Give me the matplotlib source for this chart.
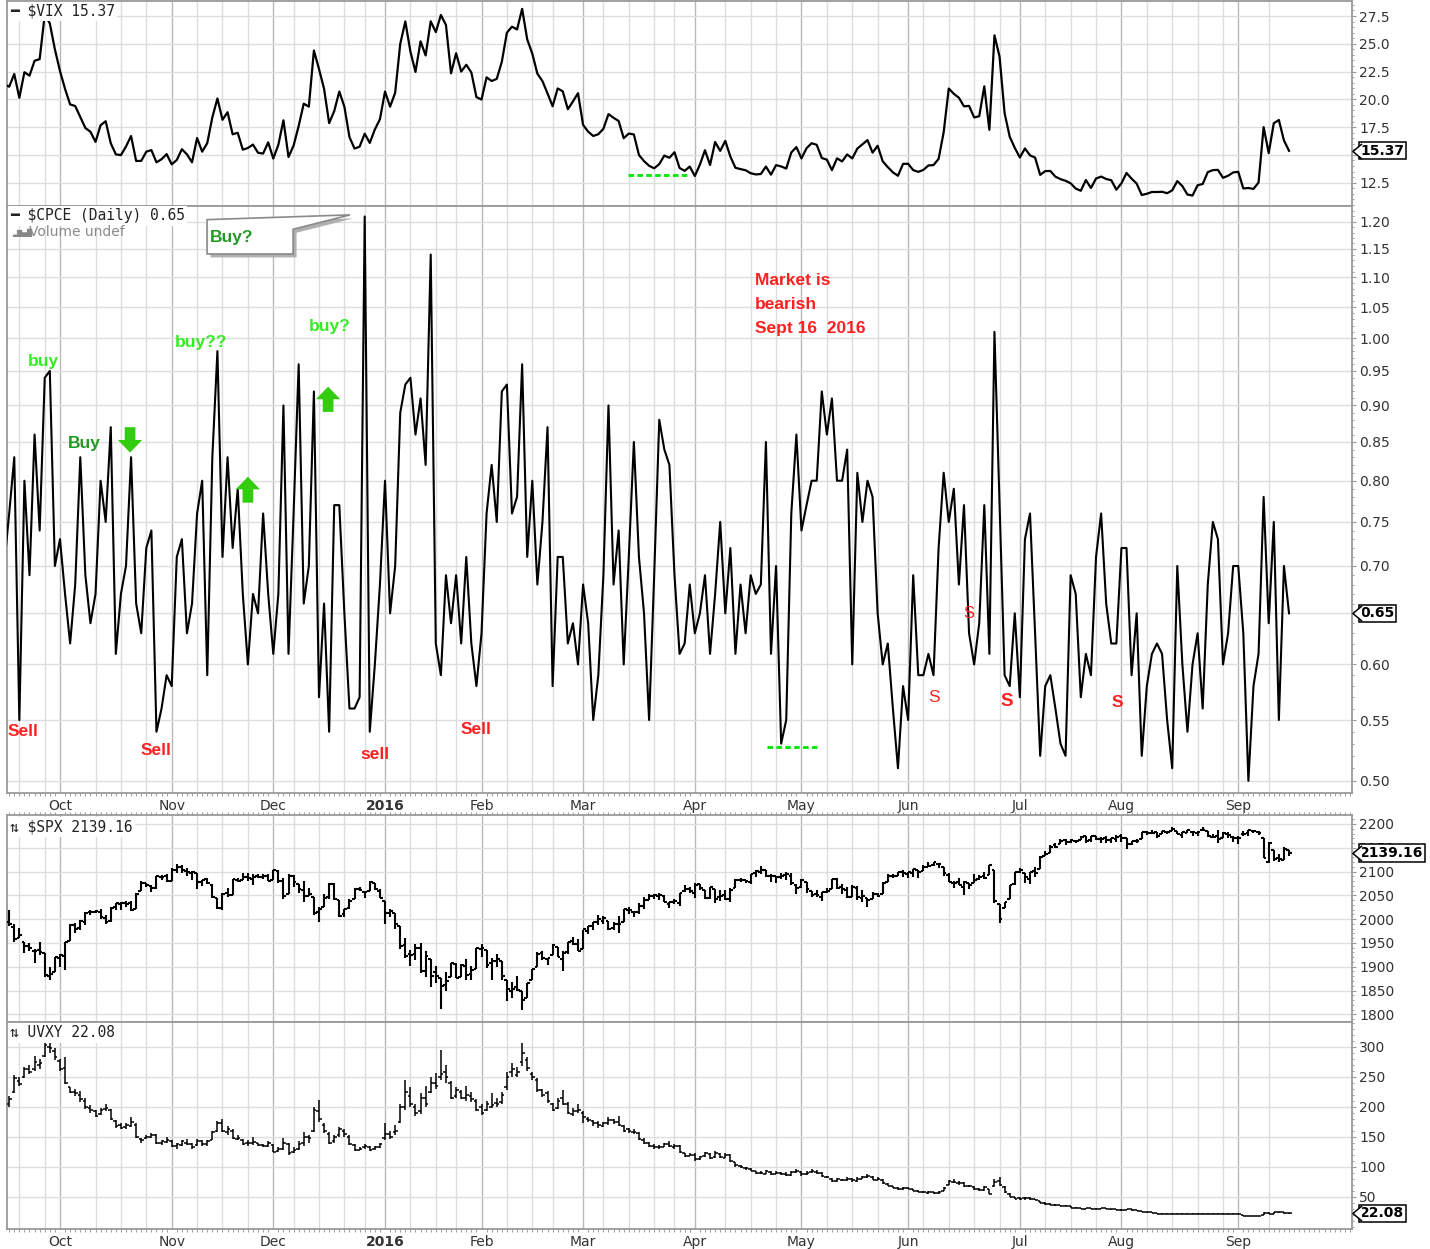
"""
StockCharts-style 4-panel chart: $VIX, $CPCE, $SPX, UVXY (Sep 2015 - Sep 2016)
with the hand-drawn buy / sell notes on the put/call panel.
"""
import numpy as np
import pandas as pd
import matplotlib
matplotlib.use("Agg")
import matplotlib.pyplot as plt
import matplotlib.patheffects as pe
from matplotlib.collections import LineCollection
from matplotlib.patches import Polygon
from matplotlib.path import Path
from matplotlib.ticker import FixedLocator, FuncFormatter, NullFormatter

plt.rcParams["font.family"] = ["DejaVu Sans"]

# ── Trading calendar ──────────────────────────────────────────────────────────
HOLIDAYS = ["2015-11-26", "2015-12-25", "2016-01-01", "2016-01-18", "2016-02-15",
            "2016-03-25", "2016-05-30", "2016-07-04", "2016-09-05"]
dates = pd.bdate_range("2015-09-16", "2016-09-16", freq="C", holidays=HOLIDAYS)
N = len(dates)
x = np.arange(N)

MONTH_LABELS = ["Oct", "Nov", "Dec", "2016", "Feb", "Mar", "Apr", "May", "Jun", "Jul", "Aug", "Sep"]

# ── Data (one line per month) ─────────────────────────────────────────────────
vix = [
    21.35, 21.14, 22.28, 20.14, 22.44, 22.13, 23.47, 23.62, 27.63, 26.83, 24.50,
    22.55, 20.94, 19.54, 19.40, 18.40, 17.42, 17.08, 16.17, 17.67, 18.03, 16.05, 15.05, 14.98, 15.75, 16.70, 14.45, 14.46, 15.29, 15.43, 14.33, 14.61, 15.07,
    14.15, 14.54, 15.51, 15.05, 14.33, 16.52, 15.29, 16.06, 18.37, 20.08, 18.16, 18.84, 16.85, 16.99, 15.47, 15.62, 15.93, 15.19, 15.12, 16.13,
    14.67, 15.91, 18.11, 14.81, 15.84, 17.60, 19.61, 19.34, 24.39, 22.73, 20.95, 17.86, 18.94, 20.70, 19.34, 16.60, 15.57, 15.74, 16.91, 16.08, 17.29, 18.21,
    20.70, 19.34, 20.59, 24.99, 27.01, 24.30, 22.47, 25.22, 23.95, 27.02, 26.05, 27.59, 26.69, 22.34, 24.15, 22.50, 23.11, 22.42, 20.20,
    19.98, 21.98, 21.65, 21.84, 23.38, 26.00, 26.54, 26.29, 28.14, 25.40, 24.11, 22.31, 21.64, 20.53, 19.38, 20.98, 20.72, 19.11, 19.81, 20.55,
    17.70, 17.09, 16.70, 16.86, 17.35, 18.67, 18.34, 18.05, 16.50, 16.92, 16.84, 14.99, 14.44, 14.02, 13.79, 14.17, 14.94, 14.74, 15.24, 13.82, 13.56, 13.95,
    13.10, 14.12, 15.42, 14.09, 16.16, 15.36, 16.26, 14.85, 13.84, 13.72, 13.62, 13.35, 13.24, 13.28, 13.95, 13.22, 14.08, 13.96, 13.77, 15.22, 15.70,
    14.68, 15.60, 16.05, 15.91, 14.72, 14.57, 13.63, 14.69, 14.41, 15.04, 14.68, 15.57, 15.95, 16.33, 15.20, 15.82, 14.42, 13.90, 13.43, 13.12, 14.19,
    14.20, 13.63, 13.47, 13.65, 14.05, 14.08, 14.64, 17.03, 20.97, 20.50, 20.14, 19.37, 19.41, 18.37, 18.48, 21.17, 17.25, 25.76, 23.85, 18.75, 16.64, 15.63,
    14.77, 15.58, 14.96, 14.76, 13.20, 13.54, 13.55, 13.04, 12.82, 12.67, 12.44, 11.97, 11.77, 12.74, 12.02, 12.87, 13.05, 12.83, 12.72, 11.87,
    12.44, 13.37, 12.86, 12.42, 11.39, 11.50, 11.66, 11.66, 11.68, 11.55, 11.81, 12.64, 12.19, 11.43, 11.34, 12.27, 12.38, 13.45, 13.63, 13.65, 12.94, 13.12, 13.42,
    13.48, 11.98, 12.02, 11.94, 12.51, 17.50, 15.16, 17.85, 18.14, 16.30, 15.37,
]

cpce = [
    0.70, 0.76, 0.83, 0.55, 0.80, 0.69, 0.86, 0.74, 0.94, 0.95, 0.70,
    0.73, 0.67, 0.62, 0.68, 0.83, 0.69, 0.64, 0.67, 0.80, 0.75, 0.87, 0.61, 0.67, 0.70, 0.83, 0.66, 0.63, 0.72, 0.74, 0.54, 0.56, 0.59,
    0.58, 0.71, 0.73, 0.63, 0.66, 0.76, 0.80, 0.59, 0.83, 0.98, 0.71, 0.83, 0.72, 0.79, 0.67, 0.60, 0.67, 0.65, 0.76, 0.67,
    0.61, 0.67, 0.90, 0.61, 0.76, 0.96, 0.66, 0.70, 0.92, 0.57, 0.66, 0.54, 0.77, 0.77, 0.65, 0.56, 0.56, 0.57, 1.21, 0.54, 0.60, 0.68,
    0.80, 0.65, 0.70, 0.89, 0.93, 0.94, 0.86, 0.91, 0.82, 1.14, 0.62, 0.59, 0.69, 0.64, 0.69, 0.62, 0.71, 0.62, 0.58,
    0.63, 0.76, 0.82, 0.75, 0.92, 0.93, 0.76, 0.78, 0.96, 0.71, 0.80, 0.68, 0.75, 0.87, 0.58, 0.71, 0.71, 0.62, 0.64, 0.60,
    0.68, 0.64, 0.55, 0.59, 0.69, 0.90, 0.68, 0.74, 0.60, 0.71, 0.85, 0.71, 0.65, 0.55, 0.69, 0.88, 0.84, 0.82, 0.69, 0.61, 0.62, 0.68,
    0.63, 0.65, 0.69, 0.61, 0.67, 0.75, 0.65, 0.72, 0.61, 0.68, 0.63, 0.69, 0.67, 0.68, 0.85, 0.61, 0.70, 0.53, 0.55, 0.76, 0.86,
    0.74, 0.77, 0.80, 0.80, 0.92, 0.86, 0.91, 0.80, 0.80, 0.84, 0.60, 0.81, 0.75, 0.80, 0.78, 0.65, 0.60, 0.62, 0.56, 0.51, 0.58,
    0.55, 0.69, 0.59, 0.59, 0.61, 0.59, 0.72, 0.81, 0.75, 0.79, 0.68, 0.77, 0.63, 0.60, 0.64, 0.77, 0.61, 1.01, 0.77, 0.59, 0.58, 0.65,
    0.57, 0.73, 0.76, 0.63, 0.52, 0.58, 0.59, 0.56, 0.53, 0.52, 0.69, 0.67, 0.57, 0.61, 0.59, 0.71, 0.76, 0.66, 0.62, 0.62,
    0.72, 0.72, 0.59, 0.65, 0.52, 0.58, 0.61, 0.62, 0.61, 0.55, 0.51, 0.70, 0.60, 0.54, 0.60, 0.63, 0.56, 0.68, 0.75, 0.73, 0.60, 0.63, 0.70,
    0.70, 0.63, 0.50, 0.58, 0.61, 0.78, 0.64, 0.75, 0.55, 0.70, 0.65,
]

spx_open = [
    1979, 1995, 1984, 1961, 1952, 1943, 1933, 1935, 1929, 1881, 1888,
    1919, 1922, 1954, 1987, 1982, 1994, 2014, 2015, 2015, 2003, 1997, 2025, 2031, 2033, 2033, 2022, 2059, 2075, 2069, 2066, 2088, 2091,
    2081, 2103, 2110, 2101, 2098, 2096, 2078, 2084, 2072, 2044, 2023, 2054, 2051, 2083, 2083, 2089, 2084, 2090, 2089, 2091,
    2083, 2101, 2081, 2052, 2091, 2074, 2061, 2048, 2047, 2014, 2025, 2047, 2074, 2041, 2011, 2023, 2043, 2063, 2058, 2060, 2077, 2060,
    2038, 2013, 2012, 1985, 1946, 1927, 1927, 1940, 1892, 1916, 1888, 1876, 1861, 1878, 1906, 1879, 1902, 1885, 1895,
    1937, 1936, 1907, 1911, 1913, 1873, 1848, 1858, 1848, 1834, 1872, 1899, 1928, 1916, 1925, 1942, 1917, 1931, 1955, 1947,
    1937, 1976, 1986, 1994, 1997, 1997, 1982, 1990, 1995, 2019, 2016, 2016, 2027, 2041, 2048, 2049, 2049, 2032, 2037, 2033, 2059, 2064,
    2056, 2074, 2062, 2045, 2063, 2046, 2050, 2043, 2066, 2082, 2083, 2079, 2097, 2100, 2103, 2091, 2090, 2089, 2092, 2091, 2072,
    2068, 2078, 2060, 2053, 2047, 2057, 2063, 2084, 2067, 2062, 2047, 2066, 2044, 2044, 2042, 2053, 2052, 2079, 2091, 2091, 2100,
    2094, 2098, 2104, 2101, 2110, 2113, 2116, 2110, 2092, 2077, 2078, 2068, 2076, 2076, 2085, 2090, 2092, 2104, 2031, 2023, 2043, 2074,
    2099, 2096, 2084, 2101, 2106, 2132, 2140, 2156, 2158, 2166, 2162, 2164, 2166, 2174, 2167, 2174, 2169, 2170, 2166, 2169,
    2174, 2170, 2157, 2164, 2168, 2183, 2182, 2183, 2178, 2183, 2186, 2186, 2177, 2181, 2184, 2182, 2187, 2185, 2173, 2175, 2170, 2180, 2173,
    2171, 2178, 2181, 2185, 2183, 2170, 2121, 2146, 2128, 2125, 2146,
]
spx_high = [
    1997, 2020, 1990, 1981, 1952, 1950, 1938, 1953, 1929, 1899, 1920,
    1927, 1952, 1989, 1991, 1999, 2016, 2020, 2019, 2022, 2009, 2025, 2034, 2035, 2039, 2038, 2055, 2080, 2075, 2071, 2090, 2093, 2095,
    2107, 2116, 2114, 2108, 2101, 2096, 2083, 2086, 2073, 2044, 2054, 2066, 2085, 2087, 2097, 2096, 2094, 2094, 2094, 2094,
    2103, 2104, 2086, 2094, 2093, 2074, 2081, 2066, 2047, 2025, 2053, 2076, 2076, 2041, 2022, 2042, 2065, 2067, 2058, 2081, 2077, 2063,
    2038, 2021, 2012, 1985, 1960, 1935, 1947, 1950, 1934, 1916, 1901, 1876, 1889, 1908, 1907, 1906, 1917, 1902, 1940,
    1947, 1936, 1918, 1927, 1913, 1873, 1868, 1881, 1848, 1865, 1896, 1930, 1933, 1919, 1947, 1942, 1932, 1952, 1962, 1958,
    1978, 1986, 1994, 2009, 2006, 1997, 1993, 2006, 2022, 2025, 2016, 2033, 2047, 2052, 2053, 2056, 2050, 2037, 2043, 2056, 2072, 2068,
    2075, 2074, 2062, 2067, 2063, 2061, 2062, 2065, 2084, 2087, 2083, 2095, 2104, 2111, 2104, 2095, 2090, 2097, 2099, 2097, 2074,
    2084, 2078, 2060, 2061, 2058, 2065, 2085, 2086, 2073, 2067, 2072, 2070, 2061, 2044, 2058, 2055, 2079, 2094, 2094, 2099, 2103,
    2100, 2105, 2104, 2113, 2120, 2121, 2117, 2110, 2096, 2081, 2086, 2080, 2076, 2094, 2093, 2099, 2113, 2104, 2031, 2037, 2071, 2099,
    2108, 2096, 2100, 2110, 2132, 2144, 2156, 2159, 2168, 2169, 2169, 2164, 2175, 2175, 2175, 2174, 2173, 2174, 2171, 2177,
    2178, 2170, 2164, 2168, 2183, 2186, 2188, 2183, 2186, 2186, 2193, 2186, 2183, 2188, 2185, 2185, 2194, 2186, 2179, 2187, 2183, 2183, 2174,
    2174, 2185, 2187, 2188, 2185, 2170, 2163, 2146, 2137, 2152, 2146,
]
spx_low = [
    1977, 1986, 1953, 1961, 1929, 1933, 1908, 1924, 1879, 1872, 1888,
    1900, 1893, 1954, 1971, 1977, 1987, 2008, 2013, 2001, 1990, 1994, 2020, 2020, 2026, 2017, 2022, 2059, 2067, 2058, 2063, 2082, 2079,
    2081, 2097, 2097, 2090, 2083, 2064, 2069, 2074, 2045, 2022, 2020, 2046, 2051, 2078, 2083, 2081, 2071, 2086, 2084, 2080,
    2083, 2077, 2043, 2052, 2067, 2056, 2035, 2048, 2009, 1993, 2025, 2042, 2041, 2005, 2005, 2021, 2043, 2059, 2044, 2060, 2062, 2044,
    1990, 2005, 1979, 1938, 1919, 1901, 1914, 1886, 1879, 1857, 1865, 1812, 1848, 1878, 1877, 1879, 1872, 1873, 1895,
    1921, 1898, 1872, 1900, 1873, 1828, 1834, 1849, 1810, 1834, 1872, 1899, 1915, 1903, 1925, 1920, 1891, 1927, 1946, 1932,
    1937, 1969, 1978, 1987, 1990, 1978, 1978, 1970, 1995, 2011, 2005, 2011, 2022, 2041, 2043, 2041, 2035, 2023, 2031, 2027, 2057, 2056,
    2044, 2062, 2042, 2043, 2033, 2039, 2041, 2036, 2066, 2078, 2076, 2074, 2088, 2094, 2089, 2079, 2075, 2085, 2082, 2071, 2053,
    2066, 2055, 2046, 2047, 2039, 2054, 2063, 2064, 2053, 2044, 2047, 2040, 2035, 2026, 2042, 2047, 2052, 2079, 2087, 2090, 2089,
    2086, 2089, 2086, 2101, 2110, 2112, 2107, 2090, 2079, 2065, 2071, 2051, 2064, 2076, 2083, 2084, 2092, 2033, 1992, 2023, 2043, 2071,
    2097, 2075, 2074, 2089, 2106, 2132, 2140, 2150, 2158, 2156, 2160, 2159, 2166, 2159, 2163, 2166, 2161, 2159, 2160, 2163,
    2162, 2148, 2155, 2159, 2168, 2177, 2181, 2170, 2178, 2180, 2186, 2178, 2170, 2181, 2175, 2175, 2186, 2172, 2170, 2160, 2170, 2171, 2162,
    2157, 2175, 2174, 2182, 2177, 2128, 2119, 2122, 2120, 2124, 2132,
]
spx_close = [
    1995.3, 1990.2, 1958.0, 1967.0, 1942.7, 1938.8, 1932.2, 1931.3, 1881.8, 1884.1, 1920.0,
    1923.8, 1951.4, 1987.1, 1979.9, 1995.8, 2013.4, 2014.9, 2017.5, 2003.7, 1994.2, 2023.9, 2033.1, 2033.7, 2030.8, 2018.9, 2052.5, 2075.2, 2071.2, 2065.9, 2090.4, 2089.4, 2079.4,
    2104.1, 2109.8, 2102.3, 2099.9, 2099.2, 2078.6, 2081.7, 2075.0, 2046.0, 2023.0, 2053.2, 2050.4, 2083.6, 2081.2, 2089.2, 2086.6, 2089.1, 2088.9, 2090.1, 2080.4,
    2102.6, 2079.5, 2049.6, 2091.7, 2077.1, 2063.6, 2047.6, 2052.2, 2012.4, 2021.9, 2043.4, 2073.1, 2041.9, 2005.6, 2021.2, 2039.0, 2064.3, 2061.0, 2056.5, 2078.4, 2063.4, 2043.9,
    2012.7, 2016.7, 1990.3, 1943.1, 1922.0, 1923.7, 1938.7, 1890.3, 1921.8, 1880.3, 1881.3, 1859.3, 1869.0, 1906.9, 1877.1, 1903.6, 1883.0, 1893.4, 1940.2,
    1939.4, 1903.0, 1912.5, 1915.5, 1880.1, 1853.4, 1852.2, 1851.9, 1829.1, 1864.8, 1895.6, 1926.8, 1917.8, 1917.8, 1945.5, 1921.3, 1929.8, 1951.7, 1948.1, 1932.2,
    1978.4, 1986.5, 1993.4, 2000.0, 2001.8, 1979.3, 1989.3, 1989.6, 2022.2, 2019.6, 2015.9, 2027.2, 2040.6, 2049.6, 2051.6, 2049.8, 2036.7, 2035.9, 2037.1, 2055.0, 2064.0, 2059.7,
    2072.8, 2066.1, 2045.2, 2066.7, 2041.9, 2047.6, 2042.0, 2061.7, 2082.4, 2082.8, 2080.7, 2094.3, 2100.8, 2102.4, 2091.5, 2091.6, 2087.8, 2091.7, 2095.2, 2075.8, 2065.3,
    2081.4, 2063.4, 2051.1, 2050.6, 2057.1, 2058.7, 2084.4, 2064.5, 2064.1, 2046.6, 2066.7, 2047.2, 2047.6, 2040.0, 2052.3, 2048.0, 2076.1, 2090.5, 2090.1, 2099.1, 2097.0,
    2099.3, 2105.3, 2099.1, 2109.4, 2112.1, 2119.1, 2115.5, 2096.1, 2079.1, 2075.3, 2071.5, 2078.0, 2071.2, 2083.3, 2088.9, 2085.5, 2113.3, 2037.4, 2000.5, 2036.1, 2070.8, 2098.9,
    2103.0, 2088.6, 2099.7, 2097.9, 2129.9, 2137.2, 2152.1, 2152.4, 2163.8, 2161.7, 2166.9, 2163.8, 2173.0, 2165.2, 2175.0, 2168.5, 2169.2, 2166.6, 2170.1, 2173.6,
    2170.8, 2157.0, 2163.8, 2164.3, 2182.9, 2180.9, 2181.7, 2175.5, 2185.8, 2184.1, 2190.2, 2178.2, 2182.2, 2187.0, 2183.9, 2182.6, 2186.9, 2175.4, 2172.5, 2169.0, 2180.4, 2176.1, 2171.0,
    2170.9, 2180.0, 2186.5, 2186.2, 2181.3, 2127.8, 2159.0, 2127.0, 2125.8, 2147.3, 2139.16,
]

uvxy_open = [
    200, 205, 225, 242, 250, 262, 262, 270, 285, 300, 292,
    276, 265, 232, 224, 220, 210, 198, 192, 188, 196, 194, 176, 170, 166, 168, 170, 146, 148, 150, 152, 140, 141,
    142, 134, 136, 140, 138, 136, 142, 137, 145, 160, 172, 158, 160, 146, 145, 140, 140, 139, 136, 134,
    136, 126, 130, 138, 124, 130, 140, 150, 160, 192, 170, 155, 142, 152, 160, 150, 136, 128, 133, 132, 130, 132,
    148, 155, 158, 175, 200, 218, 200, 192, 215, 225, 240, 250, 258, 240, 218, 225, 215, 218, 210,
    200, 195, 200, 206, 208, 232, 258, 252, 275, 278, 255, 245, 228, 222, 205, 198, 215, 205, 188, 192,
    190, 180, 176, 172, 168, 172, 177, 174, 168, 162, 158, 156, 145, 140, 135, 132, 133, 138, 133, 134, 122, 118,
    120, 112, 117, 121, 116, 121, 115, 119, 107, 101, 98, 96, 92, 89, 88, 91, 88, 90, 88, 86, 91,
    91, 87, 91, 91, 90, 83, 80, 76, 78, 77, 80, 76, 80, 83, 83, 78, 78, 71, 67, 65, 62,
    64, 62, 60, 58, 56, 57, 56, 60, 70, 75, 73, 72, 67, 66, 62, 61, 62, 68, 76, 66, 55, 49,
    48, 48, 48, 46, 43, 40, 38, 37, 36, 35, 34, 32, 31, 30, 31, 30, 30, 31, 30, 29,
    28, 28, 29, 28, 27, 25, 24, 23, 22, 22, 22, 22, 22, 22, 22, 22, 22, 22, 22, 22, 22, 22, 22,
    22, 20, 18, 18, 18, 19, 23, 22, 24, 24, 23,
]
uvxy_high = [
    215, 218, 252, 250, 266, 270, 285, 280, 306, 310, 298,
    280, 282, 233, 230, 226, 214, 202, 194, 198, 204, 196, 178, 172, 173, 182, 172, 148, 153, 156, 154, 145, 150,
    144, 140, 145, 146, 140, 146, 144, 145, 160, 176, 180, 168, 162, 152, 146, 144, 150, 140, 138, 143,
    138, 133, 148, 140, 132, 142, 158, 152, 200, 211, 172, 158, 152, 166, 162, 152, 138, 132, 138, 134, 134, 140,
    172, 160, 170, 205, 244, 232, 205, 222, 235, 250, 256, 294, 270, 242, 232, 228, 235, 225, 212,
    204, 210, 222, 215, 224, 258, 272, 266, 306, 282, 258, 248, 230, 226, 206, 214, 228, 208, 198, 204,
    192, 183, 178, 176, 175, 183, 179, 184, 170, 164, 162, 158, 147, 141, 137, 136, 140, 142, 137, 136, 123, 122,
    122, 118, 124, 123, 126, 123, 123, 121, 108, 102, 100, 97, 93, 92, 94, 92, 92, 91, 91, 93, 96,
    92, 92, 96, 94, 91, 85, 81, 81, 80, 82, 81, 82, 85, 88, 84, 82, 79, 72, 68, 66, 66,
    66, 63, 61, 59, 59, 58, 60, 66, 78, 80, 76, 74, 70, 67, 64, 68, 63, 80, 82, 67, 56, 50,
    49, 50, 49, 47, 43, 41, 39, 38, 37, 36, 34, 33, 32, 32, 31, 31, 32, 32, 30, 30,
    29, 30, 30, 28, 27, 25, 24, 23, 22.5, 22.5, 22.5, 22.5, 22.5, 22.5, 22.5, 22.5, 22.5, 22.5, 22.5, 22.5, 22.5, 22.5, 22.5,
    22.5, 20, 18.5, 18.5, 18.5, 24, 24, 25, 25, 24, 23,
]
uvxy_low = [
    172, 200, 222, 235, 248, 254, 260, 262, 282, 290, 278,
    260, 238, 222, 218, 208, 196, 190, 182, 186, 192, 178, 165, 162, 163, 166, 148, 140, 146, 148, 138, 136, 140,
    133, 130, 134, 136, 130, 134, 135, 135, 144, 158, 158, 152, 146, 144, 136, 135, 136, 134, 132, 132,
    124, 124, 128, 120, 122, 128, 134, 140, 158, 175, 156, 138, 140, 150, 150, 136, 126, 127, 130, 126, 128, 131,
    145, 146, 152, 172, 195, 200, 185, 188, 200, 222, 230, 245, 240, 212, 215, 212, 210, 208, 192,
    186, 192, 198, 200, 205, 228, 250, 250, 268, 260, 245, 225, 216, 206, 192, 196, 202, 188, 185, 190,
    172, 175, 168, 165, 166, 170, 171, 168, 157, 156, 154, 144, 137, 133, 130, 130, 132, 132, 130, 122, 116, 117,
    110, 111, 116, 112, 114, 114, 114, 108, 100, 97, 95, 92, 88, 87, 87, 86, 87, 86, 85, 85, 89,
    85, 86, 89, 88, 83, 81, 75, 75, 76, 76, 75, 75, 79, 81, 77, 77, 71, 67, 64, 61, 61,
    62, 59, 57, 56, 55, 55, 55, 59, 70, 72, 70, 66, 66, 61, 60, 60, 54, 66, 68, 56, 49, 46,
    45, 45, 45, 44, 39, 37, 36, 35, 35, 34, 32, 31, 30, 30, 29, 29, 30, 29, 28, 28,
    27, 28, 27, 27, 24, 23, 23, 22, 21.6, 21.6, 21.6, 21.6, 21.6, 21.6, 21.6, 21.6, 21.6, 21.6, 21.6, 21.6, 21.6, 21.6, 21.6,
    21.6, 18, 17.6, 17.6, 17.6, 19, 21, 22, 23, 22, 21.8,
]
uvxy_close = [
    195, 212, 248, 238, 262, 258, 275, 272, 302, 298, 282,
    262, 240, 225, 222, 212, 200, 195, 185, 195, 198, 180, 168, 165, 170, 175, 150, 145, 150, 152, 140, 142, 145,
    135, 137, 142, 138, 133, 143, 138, 142, 158, 172, 160, 163, 148, 148, 138, 139, 141, 136, 135, 140,
    125, 130, 140, 122, 128, 138, 150, 148, 195, 180, 160, 140, 150, 162, 155, 138, 128, 130, 134, 128, 132, 137,
    155, 150, 160, 200, 225, 205, 190, 215, 205, 240, 235, 255, 250, 215, 228, 215, 220, 212, 195,
    190, 205, 203, 205, 220, 250, 262, 258, 290, 265, 250, 228, 220, 210, 195, 210, 205, 190, 193, 195,
    182, 178, 172, 170, 172, 178, 174, 170, 160, 160, 157, 146, 140, 135, 132, 133, 137, 134, 134, 124, 118, 120,
    112, 116, 122, 114, 122, 116, 120, 110, 102, 99, 97, 93, 90, 89, 92, 87, 90, 88, 86, 91, 93,
    87, 90, 92, 90, 84, 82, 76, 79, 77, 80, 77, 80, 82, 84, 78, 80, 72, 68, 65, 62, 64,
    63, 60, 58, 57, 57, 56, 58, 64, 76, 74, 72, 68, 68, 62, 61, 66, 55, 74, 70, 57, 50, 47,
    46, 48, 46, 45, 40, 38, 37, 36, 35, 34, 32, 31, 30, 31, 30, 30, 31, 30, 29, 28,
    28, 29, 28, 27, 25, 24, 23, 22, 22, 22, 22, 22, 22, 22, 22, 22, 22, 22, 22, 22, 22, 22, 22,
    22, 18, 18, 18, 18, 23, 22, 24, 24, 23, 22.08,
]

for name, arr in [("vix", vix), ("cpce", cpce), ("spx_open", spx_open), ("spx_high", spx_high),
                  ("spx_low", spx_low), ("spx_close", spx_close), ("uvxy_open", uvxy_open),
                  ("uvxy_high", uvxy_high), ("uvxy_low", uvxy_low), ("uvxy_close", uvxy_close)]:
    assert len(arr) == N, (name, len(arr), N)

# ── Style ─────────────────────────────────────────────────────────────────────
W, H = 1430, 1249
X_LIM = (0.57, 265.4)
FRAME = "#9a9a9a"
GRID_LIGHT = "#dedede"
GRID_MONTH = "#b8b8b8"
LIME = "#33ee22"
DARK_GREEN = "#229a22"
ARROW_GREEN = "#33cc11"
RED = "#ff2020"
MONO = ["DejaVu Sans Mono", "DejaVu Sans"]
NOTE = ["Liberation Sans", "DejaVu Sans"]

# month / week grid positions from the calendar
month_idx = x[np.r_[False, dates.month[1:] != dates.month[:-1]]]
wk = dates.isocalendar().week.values
week_idx = [i for i in x[np.r_[False, wk[1:] != wk[:-1]]] if np.abs(month_idx - i).min() > 2]

fig = plt.figure(figsize=(W / 100, H / 100), dpi=100)


def panel(top, bottom, log=False):
    ax = fig.add_axes([7 / W, 1 - bottom / H, 1345 / W, (bottom - top) / H])
    if log:
        ax.set_yscale("log")
    ax.set_xlim(*X_LIM)
    for s in ax.spines.values():
        s.set_color(FRAME)
        s.set_linewidth(1.3)
    return ax


def style(ax, ylim, yticks, fmt, minor, hide=None, labels=False, top_ticks=False):
    ax.set_ylim(*ylim)
    ax.yaxis.set_major_locator(FixedLocator(yticks))
    # the label under the last-value tag is not printed
    ax.yaxis.set_major_formatter(FuncFormatter(
        lambda v, p: "" if hide is not None and abs(v - hide) < 1e-9 else fmt.format(v)))
    ax.yaxis.set_minor_locator(FixedLocator(minor))
    ax.yaxis.set_minor_formatter(NullFormatter())
    ax.tick_params(axis="y", which="both", left=False, labelleft=False, right=True,
                   labelright=True, direction="out", color=FRAME)
    ax.tick_params(axis="y", which="major", length=3, labelsize=10, labelcolor="#333333", pad=2)
    ax.tick_params(axis="y", which="minor", length=1.5, width=0.7)
    ax.set_xticks(month_idx)
    ax.xaxis.set_minor_locator(FixedLocator(np.arange(0, 266)))
    ax.tick_params(axis="x", which="major", length=0, pad=4, labelsize=10,
                   labelcolor="#333333", labelbottom=labels)
    ax.tick_params(axis="x", which="minor", length=2, width=0.7, color=FRAME, top=top_ticks)
    if labels:
        ax.set_xticklabels(MONTH_LABELS)
        for t in ax.get_xticklabels():
            if t.get_text() == "2016":
                t.set_fontweight("bold")
    for i in week_idx:
        ax.axvline(i, color=GRID_LIGHT, lw=1, zorder=0)
    for i in month_idx:
        ax.axvline(i, color=GRID_MONTH, lw=1, zorder=0)
    for v in yticks:
        ax.axhline(v, color=GRID_LIGHT, lw=1, zorder=0)


NOTCH = Path([(0.3, 0.5), (-0.3, 0.0), (0.3, -0.5)])


def tag(ax, value, text):
    tr = ax.get_yaxis_transform()
    ax.text(1.0062, value, text, transform=tr, ha="left", va="center", fontsize=10,
            fontweight="bold", color="black", zorder=10, clip_on=False,
            bbox=dict(boxstyle="square,pad=0.12", fc="white", ec="black", lw=1.1))
    ax.plot([1.0034], [value], transform=tr, marker=NOTCH, ms=11, mfc="white", mec="black",
            mew=1.1, clip_on=False, zorder=11)


def header(ax, yfrac, text):
    ax.text(0.0022, yfrac, text, transform=ax.transAxes, ha="left", va="center",
            fontsize=10.5, family=MONO, color="#222222", zorder=6,
            bbox=dict(fc="white", ec="none", pad=1.5))


def ohlc(ax, o, h, l, c, lw, tick):
    segs = []
    for i in range(N):
        segs.append([(i, l[i]), (i, h[i])])
        segs.append([(i - tick, o[i]), (i, o[i])])
        segs.append([(i, c[i]), (i + tick, c[i])])
    ax.add_collection(LineCollection(segs, colors="black", linewidths=lw, capstyle="butt", zorder=3))


# ── $VIX ──────────────────────────────────────────────────────────────────────
ax_vix = panel(1, 206)
style(ax_vix, (10.40, 28.85), [12.5, 15.0, 17.5, 20.0, 22.5, 25.0, 27.5], "{:.1f}",
      np.arange(10.5, 29.0, 0.5), hide=15.0)
ax_vix.plot(x, vix, color="black", lw=1.6, zorder=3)
ax_vix.plot([122.9, 135.1], [13.2, 13.2], color="#00e600", lw=2, ls=(0, (2, 1.2)), zorder=4)
header(ax_vix, 0.951, f"━ \\$VIX {vix[-1]:.2f}")
tag(ax_vix, vix[-1], f"{vix[-1]:.2f}")

# ── $CPCE ─────────────────────────────────────────────────────────────────────
ax_cp = panel(206, 793, log=True)
style(ax_cp, (0.4906, 1.23), np.round(np.arange(0.50, 1.201, 0.05), 2), "{:.2f}",
      np.arange(0.49, 1.23, 0.01), hide=0.65, labels=True)
ax_cp.plot(x, cpce, color="black", lw=1.5, zorder=3)
header(ax_cp, 0.983, f"━ \\$CPCE (Daily) {cpce[-1]:.2f}")
ax_cp.text(0.0035, 0.9556, "▂▆▄▇", transform=ax_cp.transAxes, ha="left", va="center",
           fontsize=6, family=MONO, color="#888888", zorder=6)
ax_cp.text(0.0163, 0.9556, "Volume undef", transform=ax_cp.transAxes, ha="left", va="center",
           fontsize=10, color="#8a8a8a", zorder=6)
tag(ax_cp, cpce[-1], f"{cpce[-1]:.2f}")

# callout box
callout = Polygon([(39.96, 1.204), (68.1, 1.213), (56.9, 1.186), (56.9, 1.141), (39.96, 1.141)],
                  closed=True, fc="white", ec="#8a8a8a", lw=1.2, zorder=7)
callout.set_path_effects([pe.SimplePatchShadow(offset=(2.5, -2.5), shadow_rgbFace="#b0b0b0", alpha=1),
                          pe.Normal()])
ax_cp.add_patch(callout)
ax_cp.text(40.6, 1.171, "Buy?", ha="left", va="center", fontsize=12.5, fontweight="bold",
           family=NOTE, color=DARK_GREEN, zorder=8)

# notes
notes = [
    (4.7, 0.964, "buy", LIME), (12.6, 0.848, "Buy", DARK_GREEN), (33.7, 0.994, "buy??", LIME),
    (59.9, 1.018, "buy?", LIME), (0.77, 0.540, "Sell", RED), (26.8, 0.524, "Sell", RED),
    (70.1, 0.521, "sell", RED), (89.8, 0.542, "Sell", RED),
    (147.9, 1.094, "Market is", RED), (147.9, 1.054, "bearish", RED), (147.9, 1.015, "Sept 16  2016", RED),
]
for nx, ny, txt, col in notes:
    ax_cp.text(nx, ny, txt, ha="left", va="center", fontsize=12.5, fontweight="bold",
               family=NOTE, color=col, zorder=6)
for nx, ny, w, fs in [(183.1, 0.570, "normal", 12.5), (190.0, 0.650, "normal", 12),
                      (197.5, 0.566, "bold", 13.5), (219.2, 0.565, "semibold", 12.5)]:
    ax_cp.text(nx, ny, "S", ha="center", va="center", fontsize=fs, fontweight=w,
               family=NOTE, color=RED, zorder=6)

for (ax0, y0), (ax1, y1) in [((24.8, 0.870), (24.8, 0.836)), ((48.0, 0.773), (48.0, 0.805)),
                             ((63.8, 0.891), (63.8, 0.927))]:
    ax_cp.annotate("", xy=(ax1, y1), xytext=(ax0, y0), zorder=6,
                   arrowprops=dict(arrowstyle="simple,head_width=1.25,head_length=0.65,tail_width=0.55",
                                   fc=ARROW_GREEN, ec="none", mutation_scale=14, shrinkA=0, shrinkB=0))
ax_cp.plot([150.2, 160.2], [0.527, 0.527], color="#00e600", lw=2, ls=(0, (2, 1.2)), zorder=4)

# ── $SPX ──────────────────────────────────────────────────────────────────────
ax_spx = panel(815, 1022)
style(ax_spx, (1783.8, 2218.9), np.arange(1800, 2201, 50), "{:.0f}", np.arange(1790, 2220, 10),
      top_ticks=True)
ohlc(ax_spx, spx_open, spx_high, spx_low, spx_close, 1.5, 0.55)
header(ax_spx, 0.942, f"⇅ \\$SPX {spx_close[-1]:.2f}")
tag(ax_spx, spx_close[-1], f"{spx_close[-1]:.2f}")

# ── UVXY ──────────────────────────────────────────────────────────────────────
ax_uv = panel(1022, 1229)
style(ax_uv, (-3.8, 341), np.arange(50, 301, 50), "{:.0f}", np.arange(0, 341, 10), labels=True)
ohlc(ax_uv, uvxy_open, uvxy_high, uvxy_low, uvxy_close, 1.1, 0.5)
header(ax_uv, 0.947, f"⇅ UVXY {uvxy_close[-1]:.2f}")
tag(ax_uv, uvxy_close[-1], f"{uvxy_close[-1]:.2f}")

fig.savefig("out.png", dpi=100, facecolor="white")
